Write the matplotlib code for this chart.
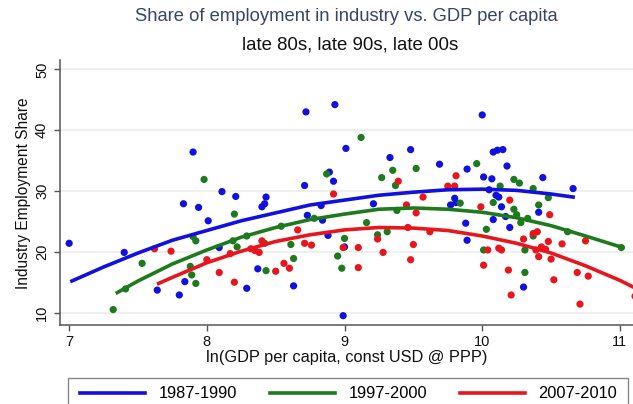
import matplotlib
matplotlib.use("Agg")
import matplotlib.pyplot as plt
from matplotlib.patches import Rectangle

plt.rcParams["font.family"] = ["Liberation Sans", "DejaVu Sans"]

periods = ["1987-1990", "1997-2000", "2007-2010"]
colors = ["#1010e0", "#1d7a1d", "#e8161c"]

# ln GDP per capita / industry employment share, one pair of lists per period
x_80s = [7.00, 7.40, 7.64, 7.80, 7.84, 7.83, 7.90, 7.94, 8.01, 8.09, 8.11, 8.21,
         8.29, 8.37, 8.40, 8.42, 8.43, 8.63, 8.71, 8.72, 8.73, 8.83, 8.84, 8.88,
         8.89, 8.92, 8.93, 8.99, 9.00, 9.01, 9.21, 9.33, 9.48, 9.69, 9.77, 9.80,
         9.81, 9.88, 9.89, 9.89, 10.00, 10.01, 10.07, 10.05, 10.08, 10.11, 10.15,
         10.18, 10.08, 10.10, 10.12, 10.14, 10.17, 10.20, 10.30, 10.41, 10.44, 10.66]
y_80s = [21.4, 19.9, 13.7, 12.9, 15.1, 27.9, 36.4, 27.3, 25.1, 20.7, 29.9, 29.1,
         14.0, 17.2, 27.4, 27.9, 29.0, 14.4, 30.9, 43.0, 26.0, 27.6, 25.2, 22.7,
         33.1, 31.6, 44.2, 9.5, 20.8, 37.0, 27.9, 35.5, 36.8, 34.4, 27.7, 28.8,
         28.1, 24.7, 21.9, 33.6, 42.5, 32.3, 32.0, 30.2, 36.4, 36.7, 36.8,
         34.1, 25.3, 29.3, 29.0, 27.4, 25.8, 24.0, 14.2, 26.5, 32.2, 30.4]

x_90s = [7.32, 7.41, 7.53, 7.88, 7.89, 7.90, 7.92, 7.92, 7.98, 8.19, 8.20, 8.22,
         8.29, 8.42, 8.43, 8.54, 8.61, 8.63, 8.78, 8.87, 8.95, 8.98, 9.00, 9.12,
         9.16, 9.24, 9.27, 9.31, 9.35, 9.37, 9.38, 9.52, 9.84, 9.96, 10.01, 10.03,
         10.08, 10.13, 10.23, 10.27, 10.23, 10.25, 10.28, 10.33, 10.31, 10.31,
         10.37, 10.37, 10.41, 10.48, 10.62, 11.01]
y_90s = [10.5, 13.9, 18.1, 17.6, 16.2, 22.5, 21.8, 14.8, 31.9, 21.8, 26.2, 20.8,
         22.6, 21.4, 16.9, 24.2, 21.2, 18.9, 25.5, 32.8, 19.3, 17.3, 22.2, 38.8,
         24.8, 22.8, 32.2, 23.3, 33.4, 30.9, 26.8, 33.7, 28.0, 34.5, 20.3, 23.7,
         28.1, 30.8, 31.9, 31.3, 27.0, 26.1, 24.8, 25.5, 20.3, 16.6,
         22.6, 30.4, 27.7, 28.9, 23.3, 20.7]

x_00s = [7.62, 7.74, 8.00, 8.09, 8.17, 8.20, 8.32, 8.35, 8.38, 8.40, 8.50, 8.56,
         8.60, 8.66, 8.71, 8.76, 8.92, 8.99, 9.10, 9.10, 9.24, 9.28, 9.39, 9.45,
         9.46, 9.50, 9.48, 9.52, 9.57, 9.62, 9.75, 9.80, 9.81, 9.99, 10.01, 10.04,
         10.12, 10.14, 10.20, 10.19, 10.21, 10.30, 10.37, 10.40, 10.39, 10.41,
         10.43, 10.46, 10.48, 10.50, 10.49, 10.52, 10.58, 10.69, 10.71, 10.75,
         10.77, 11.11]
y_00s = [20.5, 20.1, 18.7, 16.6, 19.7, 15.0, 20.5, 20.2, 19.9, 21.8, 16.8, 18.1,
         17.3, 23.6, 21.4, 21.1, 29.5, 20.7, 20.7, 17.4, 22.1, 19.9, 31.6, 27.7,
         24.0, 21.2, 18.7, 26.4, 29.0, 23.3, 30.8, 30.8, 32.5, 27.4, 17.8, 20.3,
         20.6, 20.3, 28.5, 17.0, 12.9, 22.1, 23.0, 23.3, 20.3, 19.2,
         20.8, 20.4, 21.7, 18.8, 26.1, 15.4, 21.3, 16.6, 11.4, 21.8,
         16.0, 12.7]

# quadratic fit lines, sampled along x
fit_x_80s = [7.02, 7.25, 7.5, 7.75, 8.0, 8.25, 8.5, 8.75, 9.0, 9.25, 9.5, 9.75,
             10.0, 10.25, 10.5, 10.66]
fit_y_80s = [15.2, 17.5, 19.8, 21.9, 23.5, 25.1, 26.4, 27.7, 28.5, 29.3, 29.8, 30.2,
             30.3, 30.1, 29.5, 29.0]
fit_x_90s = [7.35, 7.5, 7.75, 8.0, 8.25, 8.5, 8.75, 9.0, 9.25, 9.5, 9.75, 10.0,
             10.25, 10.5, 10.75, 11.02]
fit_y_90s = [13.3, 15.2, 18.0, 20.3, 22.4, 24.0, 25.3, 26.2, 27.0, 27.2, 27.0, 26.5,
             25.6, 24.3, 22.6, 20.7]
fit_x_00s = [7.65, 7.75, 8.0, 8.25, 8.5, 8.75, 9.0, 9.25, 9.5, 9.75, 10.0, 10.25,
             10.5, 10.75, 11.0, 11.15]
fit_y_00s = [14.8, 15.8, 18.2, 20.1, 21.7, 22.8, 23.6, 24.0, 23.9, 23.5, 22.6, 21.4,
             19.8, 17.7, 15.3, 13.6]

scatter_data = [(x_80s, y_80s), (x_90s, y_90s), (x_00s, y_00s)]
fit_data = [(fit_x_80s, fit_y_80s), (fit_x_90s, fit_y_90s), (fit_x_00s, fit_y_00s)]

fig = plt.figure(figsize=(6.33, 4.04), dpi=100)
ax = fig.add_axes([0.094, 0.195, 0.906, 0.656])

for (xs, ys), c in zip(scatter_data, colors):
    ax.scatter(xs, ys, s=27, color=c, edgecolors="none", zorder=3)

handles = []
for (xs, ys), c, lab in zip(fit_data, colors, periods):
    h, = ax.plot(xs, ys, color=c, lw=2.6, zorder=4, label=lab)
    handles.append(h)

ax.set_xlim(6.93, 11.095)
ax.set_ylim(7.93, 51.5)
ax.set_xticks([7, 8, 9, 10, 11])
ax.set_yticks([10, 20, 30, 40, 50])
ax.yaxis.grid(True, color="#ececec", lw=1.2)
ax.set_axisbelow(True)

for side in ["top", "right"]:
    ax.spines[side].set_visible(False)
for side in ["left", "bottom"]:
    ax.spines[side].set_color("#555555")
    ax.spines[side].set_linewidth(1.1)

ax.tick_params(axis="both", colors="#555555", length=4, width=1.0,
               labelsize=10.5, labelcolor="#111111")
ax.tick_params(axis="x", pad=3)
plt.setp(ax.get_yticklabels(), rotation=90, va="center")

ax.set_xlabel("ln(GDP per capita, const USD @ PPP)", fontsize=11.8,
              color="#111111", labelpad=1)
ax.set_ylabel("Industry Employment Share", fontsize=11.2, color="#111111",
              labelpad=3)

fig.text(0.547, 0.958, "Share of employment in industry vs. GDP per capita",
         ha="center", va="center", fontsize=13.2, color="#34466a")
fig.text(0.553, 0.889, "late 80s, late 90s, late 00s",
         ha="center", va="center", fontsize=13.4, color="#111111")

# legend box runs off the bottom edge
fig.patches.append(Rectangle((68 / 633, -0.05), 560 / 633, 0.05 + 1 - 378 / 404,
                             transform=fig.transFigure, facecolor="white",
                             edgecolor="#888888", lw=1.0, zorder=1))
leg = fig.legend(handles=handles, loc="center", bbox_to_anchor=(348.5 / 633, 0.025),
                 ncol=3, fontsize=11.8, frameon=False,
                 handlelength=4.0, handletextpad=0.8, columnspacing=2.0)
leg.set_zorder(2)

fig.savefig("out.png", dpi=100)
